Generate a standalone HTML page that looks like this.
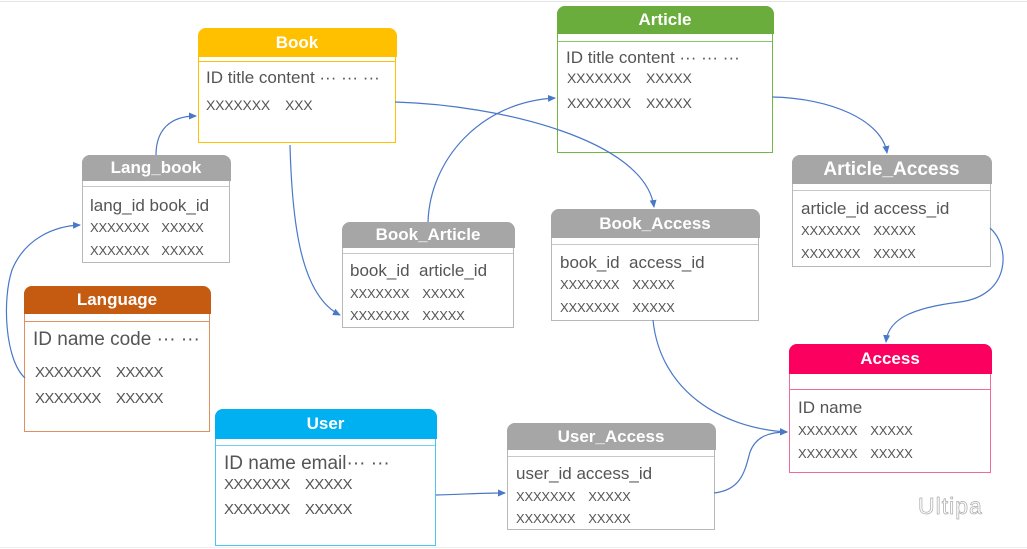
<!DOCTYPE html>
<html><head><meta charset="utf-8"><style>
body{margin:0;background:#fff;}
#c{position:relative;width:1027px;height:549px;overflow:hidden;background:#fff;font-family:"Liberation Sans",sans-serif;}
.b{position:absolute;box-sizing:border-box;background:#fff;border:1.5px solid;border-radius:8px 8px 0 0;}
.h{position:absolute;left:-1.5px;right:-1.5px;top:-1.5px;border-radius:8px 8px 0 0;color:#fff;font-weight:bold;text-align:center;font-size:17px;}
.l{position:absolute;left:0;right:0;height:0;border-top:1.5px solid;}
.t{position:absolute;color:#555;white-space:nowrap;line-height:1;}
.f{font-size:17px;}
.x{font-size:14px;letter-spacing:-0.2px;}
.x span{margin-left:15px;}
.g{border-color:#b8b8b8;}
.g .h{background:#a6a6a6;}
.g .l{border-color:#c8c8c8;}
</style></head><body><div id="c">
<div style="position:absolute;left:0;right:0;top:1px;border-top:1px solid #e4e4e4"></div>
<div style="position:absolute;left:0;right:0;top:547px;border-top:1px solid #eee"></div>

<!-- Book -->
<div class="b" style="left:198px;top:28px;width:198px;height:115px;border-color:#ffc000">
 <div class="h" style="background:#ffc000;height:29px;line-height:29px">Book</div>
 <div class="l" style="top:32px;border-color:#ffc000"></div>
 <div class="t f" style="left:7px;top:40px">ID title content ··· ··· ···</div>
 <div class="t x" style="left:7px;top:69px">XXXXXXX<span>XXX</span></div>
</div>
<!-- Article -->
<div class="b" style="left:557px;top:6px;width:216px;height:147px;border-color:#70b843">
 <div class="h" style="background:#6aad3d;height:28px;line-height:28px">Article</div>
 <div class="l" style="top:34px;border-color:#8cc66a"></div>
 <div class="t f" style="left:8px;top:42px">ID title content ··· ··· ···</div>
 <div class="t x" style="left:9px;top:64px">XXXXXXX<span>XXXXX</span></div>
 <div class="t x" style="left:9px;top:89px">XXXXXXX<span>XXXXX</span></div>
</div>
<!-- Lang_book -->
<div class="b g" style="left:82px;top:155px;width:148px;height:108px">
 <div class="h" style="height:26px;line-height:26px">Lang_book</div>
 <div class="l" style="top:30px"></div>
 <div class="t f" style="left:7px;top:41px">lang_id book_id</div>
 <div class="t x" style="left:7px;top:65px;font-size:13px">XXXXXXX<span style="margin-left:12px">XXXXX</span></div>
 <div class="t x" style="left:7px;top:88px;font-size:13px">XXXXXXX<span style="margin-left:12px">XXXXX</span></div>
</div>
<!-- Language -->
<div class="b" style="left:24px;top:286px;width:186px;height:146px;border-color:#e09060">
 <div class="h" style="background:#c55a11;height:28px;line-height:28px">Language</div>
 <div class="l" style="top:34px;border-color:#e09060"></div>
 <div class="t" style="left:8px;top:43px;font-size:19px">ID name code ··· ···</div>
 <div class="t x" style="left:10px;top:78px;font-size:15px;letter-spacing:-0.6px">XXXXXXX<span>XXXXX</span></div>
 <div class="t x" style="left:10px;top:104px;font-size:15px;letter-spacing:-0.6px">XXXXXXX<span>XXXXX</span></div>
</div>
<!-- Book_Article -->
<div class="b g" style="left:342px;top:222px;width:172px;height:106px">
 <div class="h" style="height:26px;line-height:26px">Book_Article</div>
 <div class="l" style="top:30px"></div>
 <div class="t f" style="left:7px;top:39px">book_id&nbsp; article_id</div>
 <div class="t x" style="left:7px;top:64px;font-size:13px">XXXXXXX<span style="margin-left:13px">XXXXX</span></div>
 <div class="t x" style="left:7px;top:86px;font-size:13px">XXXXXXX<span style="margin-left:13px">XXXXX</span></div>
</div>
<!-- Book_Access -->
<div class="b g" style="left:551px;top:209px;width:208px;height:112px">
 <div class="h" style="height:29px;line-height:29px">Book_Access</div>
 <div class="l" style="top:34px"></div>
 <div class="t f" style="left:8px;top:44px">book_id&nbsp; access_id</div>
 <div class="t x" style="left:8px;top:68px;font-size:13px">XXXXXXX<span style="margin-left:13px">XXXXX</span></div>
 <div class="t x" style="left:8px;top:91px;font-size:13px">XXXXXXX<span style="margin-left:13px">XXXXX</span></div>
</div>
<!-- Article_Access -->
<div class="b g" style="left:792px;top:155px;width:199px;height:112px">
 <div class="h" style="height:29px;line-height:29px;font-size:19px">Article_Access</div>
 <div class="l" style="top:34px"></div>
 <div class="t f" style="left:8px;top:44px">article_id access_id</div>
 <div class="t x" style="left:8px;top:68px;font-size:13px">XXXXXXX<span style="margin-left:13px">XXXXX</span></div>
 <div class="t x" style="left:8px;top:91px;font-size:13px">XXXXXXX<span style="margin-left:13px">XXXXX</span></div>
</div>
<!-- Access -->
<div class="b" style="left:789px;top:344px;width:202px;height:129px;border-color:#f26b98">
 <div class="h" style="background:#fc0060;height:30px;line-height:30px">Access</div>
 <div class="l" style="top:44px;border-color:#f26b98"></div>
 <div class="t f" style="left:8px;top:54px">ID name</div>
 <div class="t x" style="left:8px;top:79px;font-size:13px">XXXXXXX<span style="margin-left:13px">XXXXX</span></div>
 <div class="t x" style="left:8px;top:102px;font-size:13px">XXXXXXX<span style="margin-left:13px">XXXXX</span></div>
</div>
<!-- User -->
<div class="b" style="left:215px;top:409px;width:221px;height:137px;border-color:#4cc4f2">
 <div class="h" style="background:#00b0f0;height:30px;line-height:30px">User</div>
 <div class="l" style="top:35px;border-color:#6fd0f5"></div>
 <div class="t" style="left:8px;top:44px;font-size:19px">ID name email··· ···</div>
 <div class="t x" style="left:8px;top:67px;font-size:15px;letter-spacing:-0.6px">XXXXXXX<span>XXXXX</span></div>
 <div class="t x" style="left:8px;top:92px;font-size:15px;letter-spacing:-0.6px">XXXXXXX<span>XXXXX</span></div>
</div>
<!-- User_Access -->
<div class="b g" style="left:507px;top:423px;width:208px;height:107px">
 <div class="h" style="height:27px;line-height:27px">User_Access</div>
 <div class="l" style="top:32px"></div>
 <div class="t f" style="left:8px;top:41px">user_id access_id</div>
 <div class="t x" style="left:8px;top:66px;font-size:13px">XXXXXXX<span style="margin-left:13px">XXXXX</span></div>
 <div class="t x" style="left:8px;top:88px;font-size:13px">XXXXXXX<span style="margin-left:13px">XXXXX</span></div>
</div>

<div style="position:absolute;left:918px;top:493px;font-size:23px;color:#fff;-webkit-text-stroke:0.7px #aaa;font-family:'Liberation Sans',sans-serif;letter-spacing:1px">Ultipa</div>

<svg width="1027" height="549" style="position:absolute;left:0;top:0" fill="none" stroke="#4a78c8" stroke-width="1.2">
<defs><marker id="a" markerWidth="8" markerHeight="8" refX="7" refY="4" orient="auto" markerUnits="userSpaceOnUse"><path d="M0,0.5 L8,4 L0,7.5z" fill="#4a78c8" stroke="none"/></marker></defs>
<path d="M156 155 C156 130 170 116 196 116" marker-end="url(#a)"/>
<path d="M25 378 C5 360 2 300 12 270 C25 238 55 226 80 225" marker-end="url(#a)"/>
<path d="M290 145 C292 220 300 295 340 315" marker-end="url(#a)"/>
<path d="M395 102 C500 105 645 140 654 207" marker-end="url(#a)"/>
<path d="M428 222 C430 160 480 102 555 98" marker-end="url(#a)"/>
<path d="M772 97 C830 98 882 120 887 153" marker-end="url(#a)"/>
<path d="M990 228 C1010 245 1012 295 960 302 C910 308 888 320 886 342" marker-end="url(#a)"/>
<path d="M653 320 C660 390 720 428 787 432" marker-end="url(#a)"/>
<path d="M714 493 C742 490 745 470 750 452 C756 436 770 432 787 432" marker-end="url(#a)"/>
<path d="M436 495 C470 494 480 493 505 493" marker-end="url(#a)"/>
</svg>
</div></body></html>
